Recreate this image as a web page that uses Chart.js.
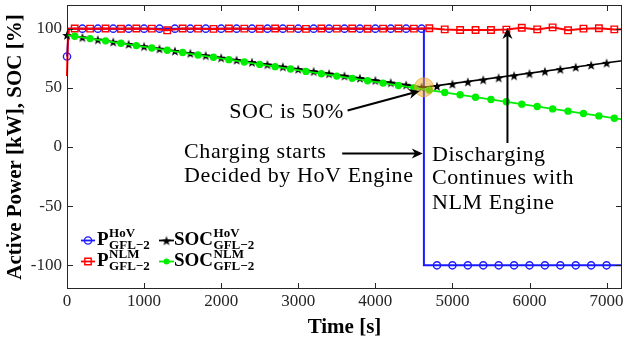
<!DOCTYPE html>
<html>
<head>
<meta charset="utf-8">
<script src="https://cdn.jsdelivr.net/npm/chart.js@4"></script>
<style>
  html, body { margin: 0; padding: 0; background: #fff; }
  canvas { display: block; }
</style>
</head>
<body>
<canvas id="chart" width="624" height="343"></canvas>
<script>
// marker times [s]: blue / black on even hundreds, red / green on odd hundreds
const evenT = [0, 200, 400, 600, 800, 1000, 1200, 1400, 1600, 1800, 2000, 2200, 2400, 2600, 2800, 3000, 3200, 3400,
  3600, 3800, 4000, 4200, 4400, 4600, 4800, 5000, 5200, 5400, 5600, 5800, 6000, 6200, 6400, 6600, 6800, 7000];
const oddT = [100, 300, 500, 700, 900, 1100, 1300, 1500, 1700, 1900, 2100, 2300, 2500, 2700, 2900, 3100, 3300, 3500,
  3700, 3900, 4100, 4300, 4500, 4700, 4900, 5100, 5300, 5500, 5700, 5900, 6100, 6300, 6500, 6700, 6900, 7100];

// P_GFL-2 with HoV engine [kW]
const pHovMarks = [76.5, 100, 100, 100, 100, 100, 100, 100, 100, 100, 100, 100, 100, 100, 100, 100, 100, 100,
  100, 100, 100, 100, 100, 100, -100, -100, -100, -100, -100, -100, -100, -100, -100, -100, -100, -100];
const pHovLineT = [0, 25, 4630, 4630, 7200];
const pHovLineV = [76.5, 100, 100, -100, -100];

// P_GFL-2 with NLM engine [kW]
const pNlmMarks = [100.2, 100, 100.1, 99.9, 100.2, 100, 98.6, 100.1, 100, 99.8, 100.2, 100, 99.9, 100.1, 100, 99.8,
  100.1, 100, 100.2, 99.9, 100, 100.1, 100, 100.3, 99.4, 98.9, 98.9, 98.9, 99.2, 100.8, 99.4, 101.1, 98.6, 100, 100.3, 99.4];
const pNlmStartT = [0, 15];
const pNlmStartV = [60, 100];
const pNlmEndT = [7200];
const pNlmEndV = [99.6];

// SOC with HoV engine [%]
const socHovMarks = [94.6, 92.7, 90.8, 88.9, 87.0, 85.1, 83.1, 81.2, 79.3, 77.4, 75.5, 73.6, 71.7, 69.8, 67.9, 65.9,
  64.0, 62.1, 60.2, 58.3, 56.4, 54.5, 52.6, 50.7, 51.5, 53.3, 55.1, 56.9, 58.6, 60.4, 62.2, 64.0, 65.8, 67.6, 69.3, 71.1];
const socHovLineT = [0, 4630, 7200];
const socHovLineV = [94.6, 50.4, 72.9];

// SOC with NLM engine [%]
const socNlmMarks = [93.6, 91.6, 89.7, 87.7, 85.7, 83.7, 81.7, 79.8, 77.8, 75.8, 73.8, 71.8, 69.8, 67.9, 65.9, 63.9,
  61.9, 59.9, 58.0, 56.0, 54.0, 52.0, 50.0, 48.1, 46.1, 44.1, 42.1, 40.2, 38.2, 36.2, 34.2, 32.2, 30.3, 28.3, 26.3, 24.3];
const socNlmLineT = [0, 7200];
const socNlmLineV = [94.6, 23.3];

// axis ticks
const xTicks = [0, 1000, 2000, 3000, 4000, 5000, 6000, 7000];
const yTicks = [-100, -50, 0, 50, 100];

// annotation anchors in data units
const soc50 = { x: 4630, y: 50.5 };
const socNote = { x: 2104, y: 29.5, text: "SOC is 50%" };
const socArrow = [3640, 30.8, 4575, 47.3];
const chargeNote = { x: 1519, ys: [-4, -25.1], lines: ["Charging starts", "Decided by HoV Engine"] };
const chargeArrow = [3570, -5.4, 4615, -5.4];
const dischargeNote = { x: 4734, ys: [-6.8, -26.5, -47.6], lines: ["Discharging", "Continues with", "NLM Engine"] };
const dischargeArrow = [5714, 3.4, 5714, 100.6];

const serif = '"Liberation Serif", "Times New Roman", serif';
const BLUE = "#1a1aff", RED = "#ff0000", BLACK = "#000000", GREEN = "#00ee00";

const pts = (xs, ys) => xs.map((x, i) => ({ x, y: ys[i] }));

// filled five point star used as point style
function starImage(r, color) {
  const c = document.createElement("canvas");
  const s = Math.ceil(r * 2 + 2);
  c.width = c.height = s;
  const g = c.getContext("2d");
  g.fillStyle = color;
  g.beginPath();
  for (let i = 0; i < 10; i++) {
    const rr = i % 2 ? r * 0.42 : r;
    const a = -Math.PI / 2 + (i * Math.PI) / 5;
    g.lineTo(s / 2 + rr * Math.cos(a), s / 2 + 0.6 + rr * Math.sin(a));
  }
  g.closePath();
  g.fill();
  return c;
}
const star = starImage(5, BLACK);

function lineSet(data, color, width, order) {
  return { data, borderColor: color, borderWidth: width, pointRadius: 0, tension: 0, fill: false, order, clip: false };
}
function markSet(data, style, color, radius, filled, order) {
  return {
    data, showLine: false, pointStyle: style, pointRadius: radius, pointBorderWidth: 1.4,
    pointBorderColor: color, pointBackgroundColor: filled ? color : "rgba(0,0,0,0)", order, clip: false,
  };
}

function arrow(ctx, x1, y1, x2, y2) {
  const ang = Math.atan2(y2 - y1, x2 - x1);
  const len = 11, half = 5;
  ctx.save();
  ctx.strokeStyle = "#000";
  ctx.fillStyle = "#000";
  ctx.lineWidth = 2;
  ctx.beginPath();
  ctx.moveTo(x1, y1);
  ctx.lineTo(x2 - len * 0.7 * Math.cos(ang), y2 - len * 0.7 * Math.sin(ang));
  ctx.stroke();
  ctx.translate(x2, y2);
  ctx.rotate(ang);
  ctx.beginPath();
  ctx.moveTo(0, 0);
  ctx.lineTo(-len, -half);
  ctx.lineTo(-len * 0.7, 0);
  ctx.lineTo(-len, half);
  ctx.closePath();
  ctx.fill();
  ctx.restore();
}

// legend text like P^{HoV}_{GFL-2}
function scriptLabel(ctx, x, y, base, sup, sub) {
  ctx.fillStyle = "#000";
  ctx.textAlign = "left";
  ctx.textBaseline = "middle";
  ctx.font = "bold 19px " + serif;
  ctx.fillText(base, x, y);
  const w = ctx.measureText(base).width;
  ctx.font = "bold 13px " + serif;
  ctx.fillText(sup, x + w + 0.5, y - 6);
  ctx.fillText(sub, x + w + 0.5, y + 5.5);
}

function legendSample(ctx, x1, x2, y, color, marker) {
  ctx.save();
  ctx.strokeStyle = color;
  ctx.lineWidth = 1.8;
  ctx.beginPath();
  ctx.moveTo(x1, y);
  ctx.lineTo(x2, y);
  ctx.stroke();
  const cx = (x1 + x2) / 2;
  ctx.lineWidth = 1.4;
  ctx.beginPath();
  if (marker === "circle") {
    ctx.arc(cx, y, 3.6, 0, Math.PI * 2);
    ctx.stroke();
  } else if (marker === "rect") {
    ctx.rect(cx - 3.2, y - 3.2, 6.4, 6.4);
    ctx.stroke();
  } else if (marker === "dot") {
    ctx.fillStyle = color;
    ctx.arc(cx, y, 3, 0, Math.PI * 2);
    ctx.fill();
  } else {
    ctx.drawImage(star, cx - star.width / 2, y - star.height / 2);
  }
  ctx.restore();
}

const overlay = {
  id: "overlay",
  afterDatasetsDraw(chart) {
    const { ctx, chartArea: a, scales: { x, y } } = chart;
    ctx.save();

    // box and inward ticks on all four sides
    ctx.strokeStyle = "#262626";
    ctx.lineWidth = 1;
    ctx.strokeRect(a.left + 0.5, a.top + 0.5, a.width - 1, a.height - 1);
    ctx.beginPath();
    for (const v of xTicks) {
      const px = Math.round(x.getPixelForValue(v)) + 0.5;
      ctx.moveTo(px, a.bottom);
      ctx.lineTo(px, a.bottom - 6);
      ctx.moveTo(px, a.top);
      ctx.lineTo(px, a.top + 6);
    }
    for (const v of yTicks) {
      const py = Math.round(y.getPixelForValue(v)) + 0.5;
      ctx.moveTo(a.left, py);
      ctx.lineTo(a.left + 6, py);
      ctx.moveTo(a.right, py);
      ctx.lineTo(a.right - 6, py);
    }
    ctx.stroke();

    // highlight where SOC reaches 50 %
    ctx.beginPath();
    ctx.arc(x.getPixelForValue(soc50.x), y.getPixelForValue(soc50.y), 9.5, 0, Math.PI * 2);
    ctx.fillStyle = "rgba(243, 170, 30, 0.5)";
    ctx.fill();
    ctx.strokeStyle = "rgba(230, 160, 40, 0.6)";
    ctx.lineWidth = 1;
    ctx.stroke();

    // notes
    ctx.fillStyle = "#000";
    ctx.textAlign = "left";
    ctx.textBaseline = "middle";
    ctx.font = "22px " + serif;
    ctx.letterSpacing = "0.6px";
    ctx.fillText(socNote.text, x.getPixelForValue(socNote.x), y.getPixelForValue(socNote.y));
    chargeNote.lines.forEach((t, i) =>
      ctx.fillText(t, x.getPixelForValue(chargeNote.x), y.getPixelForValue(chargeNote.ys[i])));
    dischargeNote.lines.forEach((t, i) =>
      ctx.fillText(t, x.getPixelForValue(dischargeNote.x), y.getPixelForValue(dischargeNote.ys[i])));
    ctx.letterSpacing = "0px";

    for (const [x1, y1, x2, y2] of [socArrow, chargeArrow, dischargeArrow]) {
      arrow(ctx, x.getPixelForValue(x1), y.getPixelForValue(y1), x.getPixelForValue(x2), y.getPixelForValue(y2));
    }

    // legend (two columns, lower left)
    legendSample(ctx, 81, 95, 240.5, BLUE, "circle");
    scriptLabel(ctx, 97, 240, "P", "HoV", "GFL\u22122");
    legendSample(ctx, 81, 95, 261.5, RED, "rect");
    scriptLabel(ctx, 97, 261, "P", "NLM", "GFL\u22122");
    legendSample(ctx, 159, 174, 240.5, BLACK, "star");
    scriptLabel(ctx, 174, 240, "SOC", "HoV", "GFL\u22122");
    legendSample(ctx, 159, 174, 261.5, GREEN, "dot");
    scriptLabel(ctx, 174, 261, "SOC", "NLM", "GFL\u22122");

    ctx.restore();
  },
};

new Chart(document.getElementById("chart").getContext("2d"), {
  type: "line",
  data: {
    datasets: [
      markSet(pts(oddT, socNlmMarks), "circle", GREEN, 3, true, 0),
      lineSet(pts(socNlmLineT, socNlmLineV), GREEN, 1.8, 1),
      markSet(pts(evenT, socHovMarks), star, BLACK, 5, true, 2),
      lineSet(pts(socHovLineT, socHovLineV), BLACK, 1.6, 3),
      markSet(pts(oddT, pNlmMarks), "rect", RED, 4.6, false, 4),
      lineSet(pts(pNlmStartT.concat(oddT, pNlmEndT), pNlmStartV.concat(pNlmMarks, pNlmEndV)), RED, 2, 5),
      markSet(pts(evenT, pHovMarks), "circle", BLUE, 3.6, false, 6),
      lineSet(pts(pHovLineT, pHovLineV), BLUE, 2, 7),
    ],
  },
  options: {
    responsive: false,
    animation: false,
    events: [],
    layout: { autoPadding: false, padding: { top: 5, right: 2, left: 0, bottom: 0 } },
    scales: {
      x: {
        type: "linear",
        min: 0,
        max: 7200,
        afterBuildTicks: (s) => { s.ticks = xTicks.map((v) => ({ value: v })); },
        afterFit: (s) => { s.height = 54; s.paddingLeft = 0; s.paddingRight = 0; },
        grid: { display: false, drawTicks: false },
        border: { display: false },
        ticks: {
          padding: 2,
          maxRotation: 0,
          autoSkip: false,
          color: "#262626",
          font: { family: serif, size: 17 },
          callback: (v) => String(v),
        },
        title: {
          display: true,
          text: "Time [s]",
          color: "#000",
          font: { family: serif, size: 21, weight: "bold" },
          padding: { top: 0, bottom: 3 },
        },
      },
      y: {
        min: -120,
        max: 120,
        afterBuildTicks: (s) => { s.ticks = yTicks.map((v) => ({ value: v })); },
        afterFit: (s) => { s.width = 67; s.paddingTop = 0; s.paddingBottom = 0; },
        grid: { display: false, drawTicks: false },
        border: { display: false },
        ticks: {
          padding: 5,
          color: "#262626",
          font: { family: serif, size: 17 },
          callback: (v) => String(v),
        },
        title: {
          display: true,
          text: "Active Power [kW], SOC [%]",
          color: "#000",
          font: { family: serif, size: 21, weight: "bold" },
          padding: { top: 3, bottom: 0 },
        },
      },
    },
    plugins: {
      legend: { display: false },
      tooltip: { enabled: false },
    },
  },
  plugins: [overlay],
});
</script>
</body>
</html>
